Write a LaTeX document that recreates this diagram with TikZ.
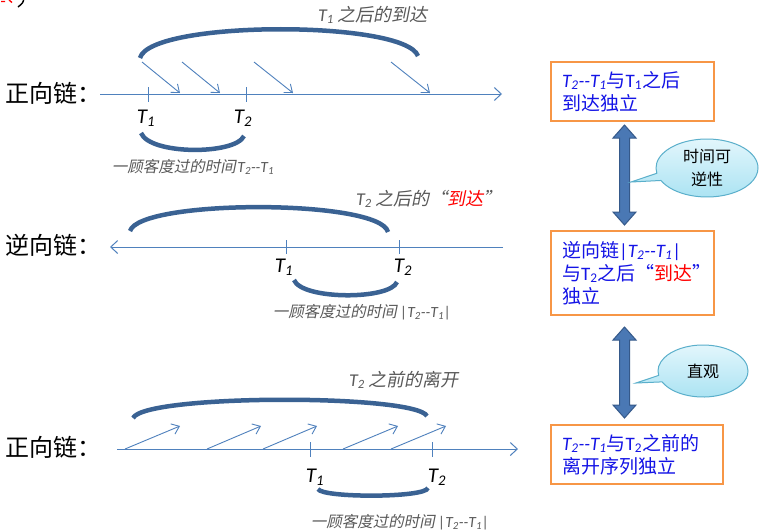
\documentclass[tikz,border=0pt]{standalone}
\usepackage{fontspec}
\setmainfont{Carlito}
\newfontfamily\cjk{Noto Sans CJK SC}
\newfontfamily\cjkit[FakeSlant=0.2]{Noto Sans CJK SC}
\usetikzlibrary{arrows.meta,shapes.callouts}
\definecolor{axisblue}{HTML}{4F81BD}
\definecolor{arcblue}{HTML}{3A6293}
\definecolor{capgray}{HTML}{595959}
\definecolor{boxorange}{HTML}{F79646}
\definecolor{boxblue}{HTML}{1414E6}
\definecolor{callborder}{HTML}{5AAFCB}
\definecolor{calltop}{HTML}{E2F6FC}
\definecolor{callbot}{HTML}{A8E2F2}
\definecolor{dblfill}{HTML}{4A78B4}
\definecolor{dbldraw}{HTML}{35598A}
\newcommand{\Ti}[1]{{\rmfamily\itshape T\textsubscript{#1}}}
\newcommand{\Tu}[1]{{\rmfamily T\textsubscript{#1}}}
\newcommand{\dd}{{\rmfamily\itshape -{}-}}
\begin{document}
\begin{tikzpicture}[x=1pt,y=-1pt,
  axisline/.style={draw=axisblue,line width=1pt,-{Straight Barb[length=7pt,width=13pt]}},
  tickline/.style={draw=axisblue,line width=1pt},
  thinarr/.style={draw=axisblue,line width=0.9pt,-{Straight Barb[length=7pt,width=11pt]}},
  bigarc/.style={draw=arcblue,line width=4.5pt,line cap=butt},
  tlab/.style={font=\rmfamily\fontsize{21}{21}\selectfont,inner sep=0pt},
  chainlab/.style={font=\cjk\fontsize{24}{24}\selectfont,inner sep=0pt,anchor=west},
  caplab/.style={font=\cjkit\fontsize{15.5}{16}\selectfont,text=capgray,inner sep=0pt},
  arclab/.style={font=\cjkit\fontsize{18}{18}\selectfont,text=capgray,inner sep=0pt},
  boxnode/.style={draw=boxorange,line width=2.5pt,text=boxblue,
     font=\cjk\fontsize{19}{23}\selectfont,align=left,inner xsep=11pt,inner ysep=0pt},
  callnode/.style={ellipse callout,draw=callborder,line width=1pt,top color=calltop,bottom color=callbot,
     font=\cjk\fontsize{16}{23}\selectfont,align=center,inner sep=0pt},
  dblarrow/.style={fill=dblfill,draw=dbldraw,line width=1pt,line join=miter}
]
\useasboundingbox (0,0) rectangle (762,531);
\fill[white] (0,0) rectangle (762,531);

% cut-off fragment at top left
\draw[red,line width=1.3pt] (1,1.5) -- (5,1.5) (9,0) -- (12,2.5);
\draw[black,line width=1.4pt] (24,-2) .. controls (23,3) .. (18,7);

% ===== Section 1: forward chain =====
\node[chainlab] (c1) at (5,93) {正向链：};
\coordinate (ax1s) at (100,94);
\coordinate (ax1e) at (502,94);
\draw[axisline] (ax1s) -- (ax1e);
\draw[tickline] (148,87) -- (148,102);
\draw[tickline] (246,87) -- (246,102);
\node[tlab] (s1t1) at (146,118) {\Ti{1}};
\node[tlab] (s1t2) at (243,118) {\Ti{2}};
\draw[thinarr] (142,62) -- (180,93);
\draw[thinarr] (182,62) -- (220,93);
\draw[thinarr] (254,62) -- (293,93);
\draw[thinarr] (391,62) -- (430,93);
\coordinate (a1s) at (140,58);
\coordinate (a1e) at (418,56);
\draw[bigarc] (a1s) .. controls (150,20) and (405,20) .. (a1e);
\node[arclab] (l1) at (373,15) {\Ti{1} 之后的到达};
\coordinate (b1s) at (141,133);
\coordinate (b1e) at (244,136);
\draw[bigarc] (b1s) .. controls (150,155) and (235,155) .. (b1e);
\node[caplab] (cap1) at (193,167) {一顾客度过的时间\kern1.5pt\Ti{2}\dd\Ti{1}};

% ===== Section 2: reverse chain =====
\node[chainlab] (c2) at (5,245) {逆向链：};
\coordinate (ax2s) at (503,247);
\coordinate (ax2e) at (110,247);
\draw[axisline] (ax2s) -- (ax2e);
\draw[tickline] (286,240) -- (286,254);
\draw[tickline] (399,240) -- (399,254);
\node[tlab] (s2t1) at (284,267) {\Ti{1}};
\node[tlab] (s2t2) at (403,267) {\Ti{2}};
\coordinate (a2s) at (130,231);
\coordinate (a2e) at (388,232);
\draw[bigarc] (a2s) .. controls (140,199) and (380,199) .. (a2e);
\node[arclab] (l2) at (429,199) {\Ti{2} 之后的“{\color{red}到达}”};
\coordinate (b2s) at (294,280);
\coordinate (b2e) at (397,282);
\draw[bigarc] (b2s) .. controls (302,300) and (390,300) .. (b2e);
\node[caplab] (cap2) at (362,312) {一顾客度过的时间 {\rmfamily\itshape |}\Ti{2}\dd\Ti{1}{\rmfamily\itshape |}};

% ===== Section 3: forward chain, departures =====
\node[chainlab] (c3) at (5,447) {正向链：};
\coordinate (ax3s) at (117,449);
\coordinate (ax3e) at (518,449);
\draw[axisline] (ax3s) -- (ax3e);
\draw[tickline] (310,442) -- (310,457);
\draw[tickline] (432,442) -- (432,457);
\node[tlab] (s3t1) at (315,477) {\Ti{1}};
\node[tlab] (s3t2) at (437,477) {\Ti{2}};
\draw[thinarr] (125,449) -- (180,426);
\draw[thinarr] (207,449) -- (261,426);
\draw[thinarr] (263,449) -- (317,426);
\draw[thinarr] (343,449) -- (398,426);
\draw[thinarr] (391,449) -- (446,426);
\coordinate (a3s) at (133,418);
\coordinate (a3e) at (427,416);
\draw[bigarc] (a3s) .. controls (145,394) and (415,394) .. (a3e);
\node[arclab] (l3) at (404,380) {\Ti{2} 之前的离开};
\coordinate (b3s) at (318,489);
\coordinate (b3e) at (428,488);
\draw[bigarc] (b3s) .. controls (322,498) and (425,498) .. (b3e);
\node[caplab] (cap3) at (400,522) {一顾客度过的时间 {\rmfamily\itshape |}\Ti{2}\dd\Ti{1}{\rmfamily\itshape |}};

% ===== Right column =====
\node[boxnode,text width=141pt,minimum height=59pt] (box1) at (632.5,91.5)
  {\Ti{2}\dd\Ti{1}与\Tu{1}之后\\到达独立};
\node[boxnode,text width=141pt,minimum height=84pt] (box2) at (632.5,273)
  {逆向链{\rmfamily|}\Ti{2}\dd\Ti{1}{\rmfamily|}\\与\Tu{2}之后“{\color{red}到达}”\\独立};
\node[boxnode,text width=150pt,minimum height=59pt] (box3) at (637,454.5)
  {\Ti{2}\dd\Ti{1}与\Tu{2}之前的\\离开序列独立};

% double arrows
\draw[dblarrow] (624.5,125) -- (636,138) -- (629.5,138) -- (629.5,212) -- (636,212) -- (624.5,225)
  -- (613,212) -- (619.5,212) -- (619.5,138) -- (613,138) -- cycle;
\draw[dblarrow] (624.5,327) -- (636,340) -- (629.5,340) -- (629.5,405) -- (636,405) -- (624.5,418)
  -- (613,405) -- (619.5,405) -- (619.5,340) -- (613,340) -- cycle;

% callouts
\node[callnode,minimum width=102pt,minimum height=58pt,callout absolute pointer={(631,182)}] (call1) at (707,168) {时间可\\逆性};
\node[callnode,minimum width=90pt,minimum height=52pt,callout absolute pointer={(636,383)}] (call2) at (703,371) {直观};
\end{tikzpicture}
\end{document}
